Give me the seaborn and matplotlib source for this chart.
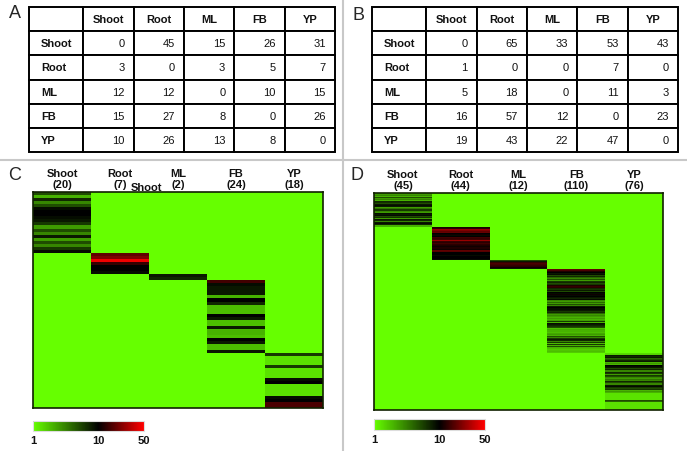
import numpy as np
import pandas as pd
import seaborn as sns
import matplotlib
matplotlib.use("Agg")
import matplotlib.pyplot as plt
from matplotlib.colors import LinearSegmentedColormap, LogNorm
from matplotlib.table import Table
from matplotlib.lines import Line2D

sns.set_style("white")
plt.rcParams["font.family"] = ["Liberation Sans", "DejaVu Sans"]

# ---------------- data ----------------
tissues = ["Shoot", "Root", "ML", "FB", "YP"]

table_a = [[0, 45, 15, 26, 31],
           [3, 0, 3, 5, 7],
           [12, 12, 0, 10, 15],
           [15, 27, 8, 0, 26],
           [10, 26, 13, 8, 0]]
table_b = [[0, 65, 33, 53, 43],
           [1, 0, 0, 7, 0],
           [5, 18, 0, 11, 3],
           [16, 57, 12, 0, 23],
           [19, 43, 22, 47, 0]]

# panel C: per-gene expression in its specific tissue (others = 1)
c_shoot = [5, 2, 7, 3, 5, 9, 10, 10, 9, 8, 6, 2.5, 5, 3, 8, 2.5, 5, 3, 6, 9]
c_root = [18, 22, 45, 14, 10, 10, 9]
c_ml = [8, 7]
c_fb = [15, 9, 8, 8, 8, 2, 10, 7, 1.8, 1.8, 1.8, 10, 8, 1.8, 1.8, 8, 2, 2, 1.8,
        10, 8, 1.8, 1.8, 8]
c_yp = [6, 1.3, 1.3, 1.3, 6, 1.3, 1.3, 1.3, 9, 10, 1.3, 1.3, 1.3, 1.3, 9, 10, 16, 16]

# panel D
d_shoot = [2, 2.5, 1.8, 3, 2, 5, 4.5, 2.5, 3, 2, 2.5, 7, 6.5, 5, 4, 8, 9, 8,
           3, 2.5, 3.5, 6, 5.5, 6, 3, 2.5, 3, 9, 8, 9, 6, 5, 6.5, 2.5, 2, 8, 7,
           3, 3.5, 8, 9, 7, 2, 1.8, 2]
d_root = [12, 13, 24, 26, 22, 18, 17, 19, 10, 11, 10, 9, 10, 15, 16, 14, 15,
          26, 24, 14, 13, 15, 14, 13, 12, 11, 13, 12, 12, 11, 12, 18, 17, 10,
          11, 10, 10, 9, 10, 11, 10, 10, 9, 10]
d_ml = [5, 8, 14, 15, 16, 15, 14, 14, 13, 11, 8, 5]
d_fb = [18, 16, 12, 9, 10, 8, 9, 6, 5, 7, 4, 6, 3, 5, 2.5, 3, 6, 7, 5, 8, 6,
        12, 14, 13, 9, 7, 6, 8, 7, 5, 10, 9, 10, 11, 9, 10, 8, 8, 7, 9, 6,
        3, 2.5, 4, 3, 2.5, 5, 3, 9, 8, 10, 9, 7, 9, 8, 6, 5, 7, 4,
        2.5, 2, 3, 2.5, 2, 2.5, 3, 2, 2.5, 6, 2.5, 2, 9, 8, 9, 7, 6, 5,
        2, 1.8, 2.2, 2, 6, 2, 1.8, 2.2, 2, 2.5, 2, 5, 7, 3, 6, 8, 4, 7, 3, 6,
        2, 1.8, 6, 2, 1.8, 5, 2, 1.8, 1.6, 1.8, 1.7, 1.8, 1.6]
d_yp = [1.5, 1.4, 1.5, 8, 9, 7, 8, 4, 3, 5, 7, 8, 6, 2, 2.5, 2, 9, 10, 9, 8,
        6, 5, 7, 3, 2.5, 3, 7, 6, 3, 2.5, 6, 5, 6, 3, 2.5, 3.5, 3, 6, 7, 5,
        3, 2.5, 3, 8, 9, 8, 6, 5, 6, 4, 2, 2.5, 2, 1.8,
        1.3, 1.3, 1.3, 1.3, 1.3, 1.3, 1.3, 1.3, 1.3, 5, 4,
        1.3, 1.3, 1.3, 1.3, 1.3, 1.3, 1.3, 1.3, 1.3, 1.3, 1.3]

cbar_ticks = [1, 10, 50]

# ---------------- layout helpers ----------------
W, H = 687, 452
fig = plt.figure(figsize=(W / 100, H / 100), dpi=100)


def rect(x0, y0, x1, y1):
    return [x0 / W, 1 - y1 / H, (x1 - x0) / W, (y1 - y0) / H]


def draw_table(ax, data):
    ax.set_axis_off()
    tb = Table(ax, bbox=[0, 0, 1, 1])
    widths = [54, 50, 50, 50, 50, 50]
    tot = float(sum(widths))
    h = 1 / 6
    for r in range(6):
        for c in range(6):
            if r == 0 and c == 0:
                text, loc = "", "center"
            elif r == 0:
                text, loc = tissues[c - 1], "center"
            elif c == 0:
                text, loc = tissues[r - 1], "left"
            else:
                text, loc = str(data[r - 1][c - 1]), "right"
            cell = tb.add_cell(r, c, widths[c] / tot, h, text=text, loc=loc,
                               edgecolor="black", facecolor="white")
            cell.set_linewidth(1.4)
            cell.PAD = 0.22 if c == 0 else 0.18
            t = cell.get_text()
            t.set_fontsize(8)
            t.set_color("#111111")
            if r == 0 or c == 0:
                t.set_fontweight("bold")
    tb.auto_set_font_size(False)
    ax.add_table(tb)


cmap = LinearSegmentedColormap.from_list(
    "gbr", [(0.0, "#66ff00"), (np.log(10) / np.log(50), "#000000"), (1.0, "#ff0000")])


def draw_heat(ax, cax, blocks):
    n = sum(len(b) for b in blocks)
    M = np.ones((n, len(tissues)))
    r = 0
    for k, vals in enumerate(blocks):
        M[r:r + len(vals), k] = vals
        r += len(vals)
    labels = [f"{t}\n({len(b)})" for t, b in zip(tissues, blocks)]
    df = pd.DataFrame(M, columns=labels)
    sns.heatmap(df, ax=ax, cmap=cmap, norm=LogNorm(vmin=1, vmax=50),
                cbar=True, cbar_ax=cax, cbar_kws={"orientation": "horizontal"},
                xticklabels=labels, yticklabels=False)
    ax.xaxis.tick_top()
    ax.tick_params(axis="x", length=0, pad=2, labelsize=8, rotation=0)
    for lbl in ax.get_xticklabels():
        lbl.set_fontweight("bold")
        lbl.set_linespacing(1.1)
        lbl.set_color("#111111")
    for sp in ax.spines.values():
        sp.set_visible(True)
        sp.set_color("#102000")
        sp.set_linewidth(1.2)
    cb = ax.collections[0].colorbar
    cb.set_ticks(cbar_ticks)
    cb.set_ticklabels([str(t) for t in cbar_ticks])
    cb.minorticks_off()
    cb.ax.tick_params(length=0, labelsize=8, pad=3)
    for lbl in cb.ax.get_xticklabels():
        lbl.set_fontweight("bold")
        lbl.set_color("#111111")
    cb.outline.set_edgecolor("#dddddd")
    cb.outline.set_linewidth(0.8)


# tables
ax_a = fig.add_axes(rect(29, 8, 335, 153))
draw_table(ax_a, table_a)
ax_b = fig.add_axes(rect(372, 8, 678, 153))
draw_table(ax_b, table_b)

# heatmaps
ax_c = fig.add_axes(rect(33, 193, 323, 409))
cax_c = fig.add_axes(rect(33, 422, 144, 432))
draw_heat(ax_c, cax_c, [c_shoot, c_root, c_ml, c_fb, c_yp])

ax_d = fig.add_axes(rect(374, 194, 663, 411))
cax_d = fig.add_axes(rect(374, 420, 485, 431))
draw_heat(ax_d, cax_d, [d_shoot, d_root, d_ml, d_fb, d_yp])

# stray label in the original
fig.text(146 / W, 1 - 188 / H, "Shoot", fontsize=8, fontweight="bold",
         ha="center", va="center", color="#111111")

# panel letters
for letter, x, y in [("A", 15, 14), ("B", 358, 15), ("C", 15, 175), ("D", 357, 175)]:
    fig.text(x / W, 1 - y / H, letter, fontsize=13, ha="center", va="center")

# dividers
fig.add_artist(Line2D([0, 1], [1 - 161 / H, 1 - 161 / H], transform=fig.transFigure,
                      color="#c8c8c8", lw=1.5))
fig.add_artist(Line2D([343 / W, 343 / W], [0, 1], transform=fig.transFigure,
                      color="#c8c8c8", lw=1.5))

fig.savefig("out.png", dpi=100)
